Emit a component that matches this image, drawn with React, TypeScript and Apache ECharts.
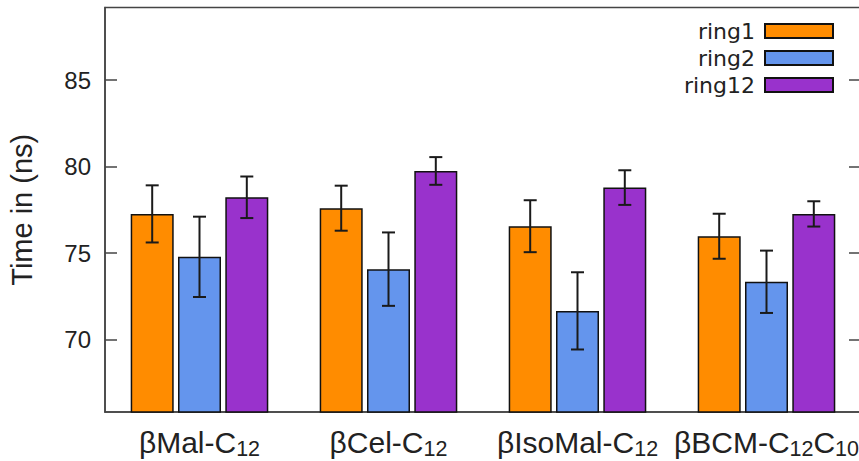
import React, { useEffect, useRef } from "react";
import * as echarts from "echarts";

const categories = ["βMal-C12", "βCel-C12", "βIsoMal-C12", "βBCM-C12C10"];
const seriesNames = ["ring1", "ring2", "ring12"];
const ring1 = [77.27, 77.6, 76.56, 75.98];
const ring2 = [74.79, 74.08, 71.67, 73.35];
const ring12 = [78.23, 79.75, 78.79, 77.27];
const ring1Err = [1.65, 1.3, 1.5, 1.3];
const ring2Err = [2.32, 2.12, 2.23, 1.8];
const ring12Err = [1.2, 0.8, 1.0, 0.73];
const yTicks = [70, 75, 80, 85];
const yMin = 65.83;
const yMax = 89.19;
const colors = ["#FF8C00", "#6495ED", "#9932CC"];

const FONT = "'Liberation Sans', Arial, sans-serif";

function richLabel(s: string): string {
  return s.replace(/(\D+)|(\d+)/g, (m, a, d) => (a ? `{m|${a}}` : `{s|${d}}`));
}

export default function App() {
  const ref = useRef<HTMLDivElement>(null);
  useEffect(() => {
    if (!ref.current) return;
    const chart = echarts.init(ref.current, undefined, { renderer: "svg" });
    const values = [ring1, ring2, ring12];
    const errs = [ring1Err, ring2Err, ring12Err];
    const barWidth = 43;
    const step = barWidth * 1.1;

    const barSeries = seriesNames.map((name, i) => ({
      name,
      type: "bar",
      data: values[i],
      barWidth,
      barGap: "10%",
      itemStyle: { color: colors[i], borderColor: "#111", borderWidth: 1.5 },
      z: 2,
    }));

    const errSeries = seriesNames.map((name, i) => ({
      name: name + "-err",
      type: "custom",
      z: 5,
      data: values[i].map((v, k) => [k, v - errs[i][k], v + errs[i][k]]),
      encode: { x: 0, y: [1, 2] },
      renderItem: (params: any, api: any) => {
        const cat = api.value(0);
        const lo = api.value(1);
        const hi = api.value(2);
        const top = api.coord([cat, hi]);
        const bot = api.coord([cat, lo]);
        const x = top[0] + (i - 1) * step;
        const cap = 6.5;
        const style = { stroke: "#1a1a1a", lineWidth: 2 };
        return {
          type: "group",
          children: [
            { type: "line", shape: { x1: x, y1: top[1], x2: x, y2: bot[1] }, style },
            { type: "line", shape: { x1: x - cap, y1: top[1], x2: x + cap, y2: top[1] }, style },
            { type: "line", shape: { x1: x - cap, y1: bot[1], x2: x + cap, y2: bot[1] }, style },
          ],
        };
      },
    }));

    chart.setOption({
      animation: false,
      backgroundColor: "#fff",
      grid: {
        left: 105,
        right: -2,
        top: 7.5,
        bottom: 49,
        show: true,
        borderColor: "#444",
        borderWidth: 1.5,
        containLabel: false,
        outerBoundsMode: "none",
      },
      legend: {
        data: seriesNames,
        orient: "vertical",
        align: "right",
        right: 20,
        top: 15,
        itemWidth: 68,
        itemHeight: 14,
        itemGap: 5,
        icon: "rect",
        textStyle: {
          fontFamily: "'DejaVu Sans', sans-serif",
          fontSize: 22,
          lineHeight: 20,
          color: "#222",
          padding: [0, 5, 0, 0],
        },
      },
      xAxis: {
        type: "category",
        data: categories,
        axisLine: { show: true, lineStyle: { color: "#444", width: 1.5 } },
        axisTick: { show: false },
        axisLabel: {
          interval: 0,
          hideOverlap: false,
          margin: 14,
          formatter: (v: string) => richLabel(v),
          rich: {
            m: { fontFamily: FONT, fontSize: 30, color: "#222", lineHeight: 32 },
            s: {
              fontFamily: FONT,
              fontSize: 21.5,
              color: "#222",
              lineHeight: 32,
              padding: [14, 0, 0, 0],
            },
          },
        },
      },
      yAxis: [
        {
          type: "value",
          min: yMin,
          max: yMax,
          position: "left",
          name: "Time in (ns)",
          nameLocation: "middle",
          nameGap: 69,
          nameTextStyle: { fontFamily: FONT, fontSize: 29, color: "#222" },
          splitLine: { show: false },
          axisLine: { show: true, lineStyle: { color: "#444", width: 1.5 } },
          axisTick: {
            show: true,
            inside: true,
            length: 12,
            lineStyle: { color: "#444", width: 1.5 },
            customValues: yTicks,
          },
          axisLabel: {
            fontFamily: FONT,
            fontSize: 24,
            color: "#222",
            margin: 14,
            customValues: yTicks,
          },
        },
        {
          type: "value",
          min: yMin,
          max: yMax,
          position: "right",
          splitLine: { show: false },
          axisLine: { show: true, lineStyle: { color: "#444", width: 1.5 } },
          axisTick: {
            show: true,
            inside: true,
            length: 12,
            lineStyle: { color: "#444", width: 1.5 },
            customValues: yTicks,
          },
          axisLabel: { show: false },
        },
      ],
      series: [...barSeries, ...errSeries],
    });
    return () => chart.dispose();
  }, []);

  return (
    <div
      ref={ref}
      style={{ position: "fixed", left: 0, top: 0, width: 859, height: 461, background: "#fff" }}
    />
  );
}
